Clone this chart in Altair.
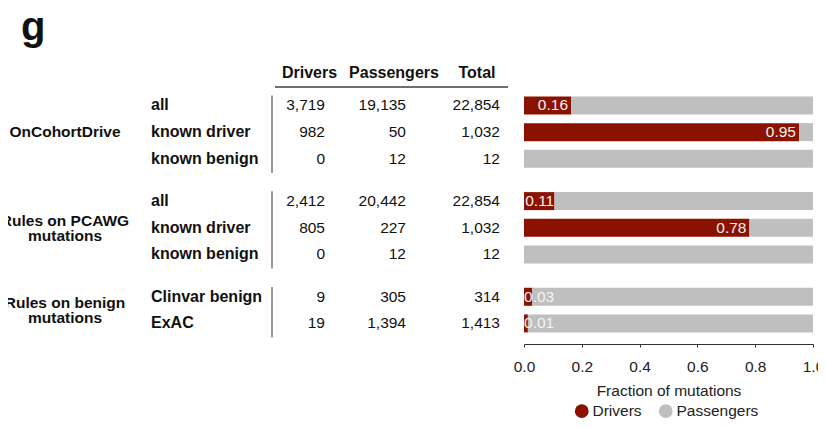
import altair as alt
import pandas as pd

# ---------------- data ----------------
group_names = ["OnCohortDrive", "Rules on PCAWG|mutations", "Rules on benign|mutations"]
row_group = [0, 0, 0, 1, 1, 1, 2, 2]
row_labels = ["all", "known driver", "known benign",
              "all", "known driver", "known benign",
              "Clinvar benign", "ExAC"]
drivers = [3719, 982, 0, 2412, 805, 0, 9, 19]
passengers = [19135, 50, 12, 20442, 227, 12, 305, 1394]
totals = [22854, 1032, 12, 22854, 1032, 12, 314, 1413]
table_columns = ["Drivers", "Passengers", "Total"]
series = ["Drivers", "Passengers"]
x_ticks = [0.0, 0.2, 0.4, 0.6, 0.8, 1.0]
panel_letter = "g"

# ---------------- style ----------------
FONT = "Liberation Sans"
RED = "#8B1200"
GRAY = "#BFBFBF"
GROUP_GAP = 0.585

# ---------------- tables ----------------
rows = pd.DataFrame({
    "idx": list(range(len(row_labels))),
    "grp": row_group,
    "label": row_labels,
    "Drivers": drivers,
    "Passengers": passengers,
    "Total": totals,
})
rows["pos"] = rows["idx"] + rows["grp"] * GROUP_GAP
rows["frac"] = rows["Drivers"] / rows["Total"]

bar_records = []
for _, r in rows.iterrows():
    bar_records.append({"pos": r["pos"], "type": "Drivers", "x0": 0.0, "x1": r["frac"]})
    bar_records.append({"pos": r["pos"], "type": "Passengers", "x0": r["frac"], "x1": 1.0})
bar_df = pd.DataFrame(bar_records)

num_records = []
for _, r in rows.iterrows():
    for ci, c in enumerate(table_columns):
        num_records.append({"pos": r["pos"], "col": ci, "value": int(r[c])})
num_df = pd.DataFrame(num_records)

hdr_df = pd.DataFrame({"col": list(range(len(table_columns))), "name": table_columns})

grp_df = rows.groupby("grp").agg(lo=("pos", "min"), hi=("pos", "max"), mid=("pos", "mean")).reset_index()
grp_df["name"] = [group_names[g] for g in grp_df["grp"]]

yscale = alt.Scale(domain=[-3.465, 8.753], nice=False, zero=False, reverse=True)
xbar_scale = alt.Scale(domain=[0, 1], range=[516, 805], nice=False, zero=False)

# ---------------- bars ----------------
bars = alt.Chart(bar_df).mark_bar(orient="horizontal", size=18).encode(
    x=alt.X("x0:Q", scale=xbar_scale,
            axis=alt.Axis(values=x_ticks, format=".1f", title="Fraction of mutations",
                          grid=False, tickSize=3, labelPadding=12, titlePadding=9,
                          labelFontSize=15.5, titleFontSize=15.5, labelFont=FONT, titleFont=FONT,
                          titleFontWeight="normal", labelColor="#222", titleColor="#222",
                          domainColor="#333", tickColor="#333", labelFlush=False)),
    x2="x1:Q",
    y=alt.Y("pos:Q", scale=yscale, axis=None),
    color=alt.Color("type:N", scale=alt.Scale(domain=series, range=[RED, GRAY]),
                    legend=alt.Legend(title=None, orient="none", legendX=566, legendY=395,
                                      direction="horizontal", symbolType="circle", symbolSize=190,
                                      symbolStrokeWidth=0, labelFontSize=15.5, labelFont=FONT,
                                      labelColor="#222", columnPadding=16, labelOffset=3,
                                      padding=0)),
)

bar_labels = alt.Chart(rows).transform_filter("datum.frac > 0").transform_calculate(
    lx="max(datum.frac, 0.115)", txt="format(datum.frac, '.2f')"
).mark_text(align="right", baseline="middle", dx=-3, fontSize=15.5, color="#F4F4F4", font=FONT).encode(
    x=alt.X("lx:Q", scale=xbar_scale, axis=None),
    y=alt.Y("pos:Q", scale=yscale, axis=None),
    text="txt:N",
)

# ---------------- table ----------------
numbers = alt.Chart(num_df).transform_calculate(txt="format(datum.value, ',')").mark_text(
    align="right", baseline="middle", fontSize=15.5, color="#111", font=FONT
).encode(
    x=alt.X("col:Q", scale=alt.Scale(domain=[0, 1, 2], range=[317, 398, 492], nice=False, zero=False), axis=None),
    y=alt.Y("pos:Q", scale=yscale, axis=None),
    text="txt:N",
)

headers = alt.Chart(hdr_df).mark_text(
    align="center", baseline="middle", fontSize=16, fontWeight="bold", color="#111", font=FONT
).encode(
    x=alt.X("col:Q", scale=alt.Scale(domain=[0, 1, 2], range=[301.5, 386, 469], nice=False, zero=False), axis=None),
    y=alt.YDatum(-1.21, scale=yscale, axis=None),
    text="name:N",
)

header_line = alt.Chart(hdr_df).mark_rule(color="#6E6E6E", strokeWidth=2).encode(
    x=alt.value(267), x2=alt.value(500),
    y=alt.YDatum(-0.69, scale=yscale, axis=None),
)

row_text = alt.Chart(rows).mark_text(
    align="left", baseline="middle", fontSize=16, fontWeight="bold", color="#111", font=FONT
).encode(
    x=alt.value(143),
    y=alt.Y("pos:Q", scale=yscale, axis=None),
    text="label:N",
)

group_text = alt.Chart(grp_df).transform_calculate(
    lines="split(datum.name, '|')"
).transform_calculate(
    ty="datum.mid - (length(datum.lines) - 1) * 0.25"
).mark_text(
    align="center", baseline="middle", fontSize=15.5, fontWeight="bold", color="#111",
    font=FONT, lineHeight=15
).encode(
    x=alt.value(57),
    y=alt.Y("ty:Q", scale=yscale, axis=None),
    text=alt.Text("lines:N"),
)

group_rules = alt.Chart(grp_df).transform_calculate(
    a="datum.lo - 0.37", b="datum.hi + 0.53"
).mark_rule(color="#7A7A7A", strokeWidth=1.5).encode(
    x=alt.value(264),
    y=alt.Y("a:Q", scale=yscale, axis=None),
    y2="b:Q",
)

letter = alt.Chart(pd.DataFrame({"t": [panel_letter]})).mark_text(
    align="left", baseline="alphabetic", fontSize=40, fontWeight="bold", color="#111", font=FONT
).encode(
    x=alt.value(13),
    y=alt.YDatum(-2.447, scale=yscale, axis=None),
    text="t:N",
)

chart = alt.layer(
    bars, bar_labels, numbers, headers, header_line, row_text, group_text, group_rules, letter
).resolve_scale(x="independent").properties(
    width=810, height=336, autosize="none",
    padding={"left": 0, "top": 0, "right": 0, "bottom": 76},
).configure_view(stroke=None)

chart.save("out.html", embed_options={"renderer": "svg", "actions": False})
